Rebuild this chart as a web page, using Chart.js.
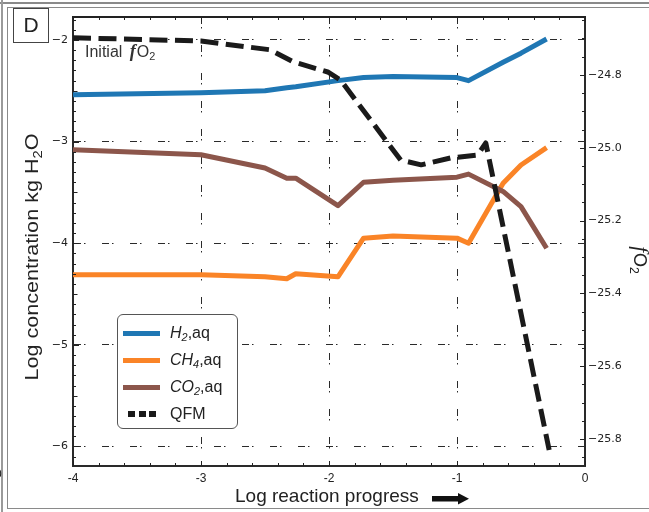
<!DOCTYPE html>
<html lang="en">
<head>
<meta charset="UTF-8">
<title>Log concentration vs log reaction progress</title>
<script src="https://cdn.jsdelivr.net/npm/chart.js@4.4.1/dist/chart.umd.min.js"></script>
<style>
  body { margin: 0; background: #fff; font-family: 'Liberation Sans', Arial, sans-serif; color: #222; }
  #wrap { position: relative; width: 649px; height: 512px; overflow: hidden; }
  #chart { position: absolute; left: 0; top: 0; }
  .abs { position: absolute; white-space: nowrap; }
  sub { font-size: 68%; vertical-align: -0.32em; line-height: 0; }

  .outer-top { left: 0; top: 2px; width: 649px; border-top: 2px solid #8a8a8a; }
  .outer-left { left: 1px; top: 0; height: 512px; border-left: 2px solid #9a9a9a; }
  .inner-box { left: 7px; top: 7px; width: 700px; height: 502px; border: 1px solid #8a8a8a; box-sizing: border-box; }
  .cut-zero { left: -5px; top: 467px; font-size: 12px; }

  .panel { left: 13px; top: 8px; width: 36px; height: 35px; box-sizing: border-box; border: 1.5px solid #444;
           font-size: 21px; line-height: 32px; text-align: center; }

  .initial { left: 85px; top: 43px; font-size: 16px; line-height: 16px; color: #333; }
  .initial .f { font-family: 'Liberation Serif', serif; font-style: italic; font-weight: bold; font-size: 18px; margin: 0 1px 0 3px; }

  .ytitle { left: -118px; top: 247px; width: 300px; height: 20px; line-height: 20px; text-align: center;
            font-size: 18px; transform: rotate(-90deg) scaleX(1.2); }
  .y2title { left: 591px; top: 250px; width: 100px; height: 20px; line-height: 20px; text-align: center;
             font-size: 18px; transform: rotate(90deg); }
  .y2title .f { font-family: 'Liberation Serif', serif; font-style: italic; font-size: 21px; margin-right: 1px; }
  .xtitle { left: 235px; top: 486px; font-size: 19px; line-height: 19px; }
  .arrow { left: 431px; top: 492px; }

  .legend { left: 117px; top: 314px; width: 121px; height: 115px; box-sizing: border-box;
            border: 1.3px solid #555; border-radius: 6px; background: #fff; }
  .row { position: absolute; left: 0; height: 20px; width: 118px; }
  .row .sample { position: absolute; left: 5px; top: 7.5px; width: 37px; height: 5px; }
  .row .dot { position: absolute; top: 7px; width: 7px; height: 6px; background: #1a1a1a; }
  .row .txt { position: absolute; left: 52px; top: 0; font-size: 16px; line-height: 20px; }
</style>
</head>
<body>
<div id="wrap">
  <canvas id="chart" width="649" height="512"></canvas>

  <div class="abs outer-top"></div>
  <div class="abs outer-left"></div>
  <div class="abs inner-box"></div>
  <div class="abs cut-zero">0</div>
  <div class="abs panel">D</div>

  <div class="abs initial">Initial <span class="f">f</span>O<sub>2</sub></div>

  <div class="abs ytitle">Log concentration kg H<sub>2</sub>O</div>
  <div class="abs y2title"><span class="f">f</span>O<sub>2</sub></div>
  <div class="abs xtitle">Log reaction progress</div>
  <svg class="abs arrow" width="40" height="14" viewBox="0 0 40 14">
    <rect x="1" y="4" width="28" height="5.5" fill="#111"/>
    <polygon points="27,1 38,6.7 27,12.4" fill="#111"/>
  </svg>

  <div class="abs legend">
    <div class="row" style="top:8px"><span class="sample" id="lg0"></span><span class="txt"><i>H<sub>2</sub></i>,aq</span></div>
    <div class="row" style="top:35px"><span class="sample" id="lg1"></span><span class="txt"><i>CH<sub>4</sub></i>,aq</span></div>
    <div class="row" style="top:62px"><span class="sample" id="lg2"></span><span class="txt"><i>CO<sub>2</sub></i>,aq</span></div>
    <div class="row" style="top:89px">
      <span class="dot" style="left:10px"></span><span class="dot" style="left:21px"></span><span class="dot" style="left:31px"></span>
      <span class="txt">QFM</span>
    </div>
  </div>
</div>

<script>
// log reaction progress (shared by the three aqueous species)
const progress = [-4, -3, -2.5, -2.33, -2.26, -1.93, -1.73, -1.5, -1.0, -0.91, -0.64, -0.5, -0.3];
const h2  = [-2.54, -2.52, -2.50, -2.47, -2.46, -2.40, -2.37, -2.36, -2.37, -2.40, -2.22, -2.13, -1.99];
const ch4 = [-4.31, -4.31, -4.33, -4.35, -4.30, -4.33, -3.95, -3.93, -3.95, -4.00, -3.41, -3.23, -3.06];
const co2 = [-3.08, -3.13, -3.26, -3.36, -3.36, -3.63, -3.40, -3.38, -3.35, -3.32, -3.49, -3.64, -4.05];

// QFM buffer, log fO2 on the right axis
const qfmProgress = [-4, -3, -2.46, -2.28, -2.01, -1.91, -1.44, -1.28, -1.05, -0.84, -0.775, -0.28];
const qfm = [-24.698, -24.707, -24.731, -24.764, -24.792, -24.814, -25.034, -25.047, -25.028, -25.020, -24.987, -25.830];

const xTicks = [-4, -3, -2, -1, 0];
const colors = { h2: '#1f77b4', ch4: '#fa8427', co2: '#8c564b', qfm: '#1a1a1a' };

document.getElementById('lg0').style.background = colors.h2;
document.getElementById('lg1').style.background = colors.ch4;
document.getElementById('lg2').style.background = colors.co2;

const toPoints = (xs, ys) => xs.map((x, i) => ({ x: x, y: ys[i] }));
const minus = v => (v < 0 ? '\u2212' : '') + Math.abs(v);

// small inward ticks on all four sides + top frame line
const frameTicks = {
  id: 'frameTicks',
  afterDatasetsDraw(chart) {
    const { ctx, chartArea: a, scales } = chart;
    ctx.save();
    ctx.strokeStyle = '#222';
    ctx.lineWidth = 1;
    ctx.beginPath();
    for (let i = -20; i <= 0; i++) {
      const px = Math.round(scales.x.getPixelForValue(i / 5)) + 0.5;
      const len = i % 5 === 0 ? 5 : 3;
      ctx.moveTo(px, a.bottom); ctx.lineTo(px, a.bottom - len);
      ctx.moveTo(px, a.top); ctx.lineTo(px, a.top + len);
    }
    const y = scales.y;
    for (let i = Math.ceil(y.min * 10); i <= Math.floor(y.max * 10); i++) {
      const py = Math.round(y.getPixelForValue(i / 10)) + 0.5;
      const len = i % 10 === 0 ? 6 : (i % 5 === 0 ? 4.5 : 3);
      ctx.moveTo(a.left, py); ctx.lineTo(a.left + len, py);
    }
    const y2 = scales.y2;
    for (let i = Math.ceil(y2.min * 20); i <= Math.floor(y2.max * 20); i++) {
      const py = Math.round(y2.getPixelForValue(i / 20)) + 0.5;
      const len = i % 4 === 0 ? 5 : 3;
      ctx.moveTo(a.right, py); ctx.lineTo(a.right - len, py);
    }
    ctx.stroke();
    ctx.lineWidth = 2;
    ctx.beginPath();
    ctx.moveTo(a.left - 1, a.top); ctx.lineTo(a.right + 1, a.top);
    ctx.stroke();
    ctx.restore();
  }
};

const gridDash = [7, 3, 1.5, 16.5];

new Chart(document.getElementById('chart'), {
  type: 'line',
  data: {
    datasets: [
      { label: 'H2,aq', data: toPoints(progress, h2), yAxisID: 'y', borderColor: colors.h2, order: 3 },
      { label: 'CH4,aq', data: toPoints(progress, ch4), yAxisID: 'y', borderColor: colors.ch4, order: 2 },
      { label: 'CO2,aq', data: toPoints(progress, co2), yAxisID: 'y', borderColor: colors.co2, order: 1 },
      { label: 'QFM', data: toPoints(qfmProgress, qfm), yAxisID: 'y2', borderColor: colors.qfm,
        borderDash: [18, 7.5], borderCapStyle: 'butt', order: 0 }
    ]
  },
  options: {
    responsive: false,
    animation: false,
    layout: { padding: { top: 17, left: 0, right: 0, bottom: 0 } },
    elements: {
      point: { radius: 0 },
      line: { borderWidth: 5, tension: 0, borderJoinStyle: 'round', fill: false }
    },
    plugins: { legend: { display: false }, tooltip: { enabled: false } },
    scales: {
      x: {
        type: 'linear', position: 'bottom', min: xTicks[0], max: xTicks[xTicks.length - 1],
        afterBuildTicks: s => { s.ticks = xTicks.map(v => ({ value: v })); },
        ticks: { padding: 5, color: '#222', maxRotation: 0, font: { family: 'Liberation Sans', size: 12 },
                 callback: v => (v < 0 ? '-' : '') + Math.abs(v) },
        grid: { drawTicks: false, lineWidth: 1,
                color: c => (c.tick && (c.tick.value === -4 || c.tick.value === 0)) ? 'rgba(0,0,0,0)' : '#2a2a2a' },
        border: { color: '#2a2a2a', width: 2, dash: gridDash },
        afterFit: s => { s.height = 46; }
      },
      y: {
        position: 'left', min: -6.192, max: -1.774,
        ticks: { stepSize: 1, includeBounds: false, padding: 5, color: '#222',
                 font: { family: 'DejaVu Sans', size: 11 }, callback: minus },
        grid: { drawTicks: false, lineWidth: 1, color: '#2a2a2a' },
        border: { color: '#2a2a2a', width: 2, dash: gridDash },
        afterFit: s => { s.width = 73; }
      },
      y2: {
        position: 'right', min: -25.874, max: -24.641,
        ticks: { stepSize: 0.2, includeBounds: false, padding: 3, color: '#222',
                 font: { family: 'DejaVu Sans', size: 11 },
                 callback: v => '\u2212' + Math.abs(v).toFixed(1) },
        grid: { drawOnChartArea: false, drawTicks: false },
        border: { color: '#2a2a2a', width: 2 },
        afterFit: s => { s.width = 64; }
      }
    }
  },
  plugins: [frameTicks]
});
</script>
</body>
</html>
